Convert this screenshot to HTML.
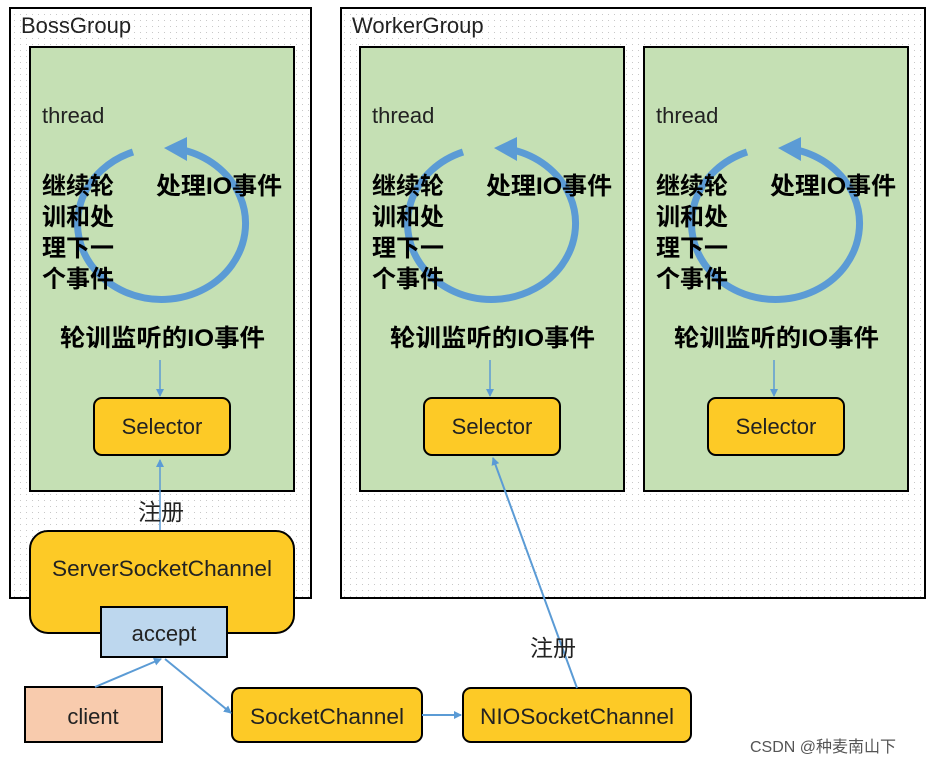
<!DOCTYPE html>
<html><head><meta charset="utf-8"><style>
body{margin:0;background:#fff}
svg text{font-family:"Liberation Sans","Noto Sans CJK SC",sans-serif}
</style></head><body>
<svg width="935" height="763" viewBox="0 0 935 763" xmlns="http://www.w3.org/2000/svg">
<defs>
<pattern id="dots" width="6" height="6" patternUnits="userSpaceOnUse"><rect width="6" height="6" fill="#fff"/><rect x="2" y="2" width="1" height="1" fill="#c8c8c8"/></pattern>
<marker id="ah" markerWidth="8" markerHeight="8" refX="7" refY="4" orient="auto" markerUnits="userSpaceOnUse"><path d="M0,0 L8,4 L0,8 z" fill="#5b9bd5"/></marker>
</defs>
<rect x="10" y="8" width="301" height="590" fill="url(#dots)" stroke="#000" stroke-width="2"/>
<rect x="341" y="8" width="584" height="590" fill="url(#dots)" stroke="#000" stroke-width="2"/>
<text x="21" y="33" font-size="22" fill="#222">BossGroup</text>
<text x="352" y="33" font-size="22" fill="#222">WorkerGroup</text>

<g id="t1">
<rect x="30" y="47" width="264" height="444" fill="#c5e0b4" stroke="#000" stroke-width="2"/>
<text x="42" y="123" font-size="22" fill="#222">thread</text>
<path d="M133,152 A84,76 0 1 0 183,150" fill="none" stroke="#5b9bd5" stroke-width="7"/>
<path d="M164,148 L187,137 L187,161 z" fill="#5b9bd5"/>
<g font-size="24" font-weight="bold" fill="#000">
<text x="42" y="194">继续轮</text><text x="42" y="225">训和处</text><text x="42" y="256">理下一</text><text x="42" y="287">个事件</text>
<text x="156" y="194" textLength="126" lengthAdjust="spacingAndGlyphs">处理IO事件</text>
<text x="60" y="346" textLength="205" lengthAdjust="spacingAndGlyphs">轮训监听的IO事件</text>
</g>
<line x1="160" y1="360" x2="160" y2="396" stroke="#5b9bd5" stroke-width="1.5" marker-end="url(#ah)"/>
<rect x="94" y="398" width="136" height="57" rx="8" fill="#fdca26" stroke="#000" stroke-width="2"/>
<text x="162" y="434" font-size="22" text-anchor="middle" fill="#222">Selector</text>
</g>
<use href="#t1" x="330"/>
<use href="#t1" x="614"/>

<line x1="160" y1="530" x2="160" y2="460" stroke="#5b9bd5" stroke-width="1.5" marker-end="url(#ah)"/>
<text x="138" y="520" font-size="23" fill="#222">注册</text>
<rect x="30" y="531" width="264" height="102" rx="18" fill="#fdca26" stroke="#000" stroke-width="2"/>
<text x="162" y="576" font-size="22" text-anchor="middle" fill="#222" textLength="220" lengthAdjust="spacingAndGlyphs">ServerSocketChannel</text>
<rect x="101" y="607" width="126" height="50" fill="#bdd7ee" stroke="#000" stroke-width="2"/>
<text x="164" y="641" font-size="22" text-anchor="middle" fill="#222">accept</text>
<rect x="25" y="687" width="137" height="55" fill="#f8cbad" stroke="#000" stroke-width="2"/>
<text x="93" y="724" font-size="22" text-anchor="middle" fill="#222">client</text>
<rect x="232" y="688" width="190" height="54" rx="8" fill="#fdca26" stroke="#000" stroke-width="2"/>
<text x="327" y="724" font-size="22" text-anchor="middle" fill="#222" textLength="154" lengthAdjust="spacingAndGlyphs">SocketChannel</text>
<rect x="463" y="688" width="228" height="54" rx="8" fill="#fdca26" stroke="#000" stroke-width="2"/>
<text x="577" y="724" font-size="22" text-anchor="middle" fill="#222" textLength="194" lengthAdjust="spacingAndGlyphs">NIOSocketChannel</text>

<line x1="95" y1="687" x2="161" y2="659" stroke="#5b9bd5" stroke-width="2" marker-end="url(#ah)"/>
<line x1="165" y1="659" x2="231" y2="713" stroke="#5b9bd5" stroke-width="2" marker-end="url(#ah)"/>
<line x1="422" y1="715" x2="461" y2="715" stroke="#5b9bd5" stroke-width="2" marker-end="url(#ah)"/>
<line x1="577" y1="688" x2="493" y2="458" stroke="#5b9bd5" stroke-width="2" marker-end="url(#ah)"/>
<text x="530" y="656" font-size="23" fill="#222">注册</text>
<text x="750" y="752" font-size="16" fill="#555">CSDN @种麦南山下</text>
</svg>
</body></html>
